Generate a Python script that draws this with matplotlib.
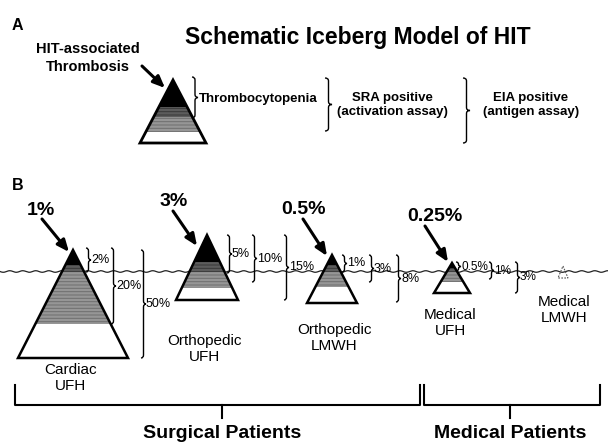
import numpy as np
import matplotlib
matplotlib.use("Agg")
import matplotlib.pyplot as plt
from matplotlib.patches import Polygon
from matplotlib.path import Path
from matplotlib.patches import PathPatch

plt.rcParams['font.family'] = ['Liberation Sans', 'DejaVu Sans']
plt.rcParams['hatch.linewidth'] = 0.7

# data
groups = ["Cardiac\nUFH", "Orthopedic\nUFH", "Orthopedic\nLMWH", "Medical\nUFH", "Medical\nLMWH"]
thrombosis = ["1%", "3%", "0.5%", "0.25%", ""]
brace_labels = [["2%", "20%", "50%"], ["5%", "10%", "15%"], ["1%", "3%", "8%"], ["0.5%", "1%", "3%"], []]
patient_groups = ["Surgical Patients", "Medical Patients"]
panel_a_labels = ["Thrombocytopenia", "SRA positive\n(activation assay)", "EIA positive\n(antigen assay)"]

# layout (pixel space)
W, H = 608, 443
fig = plt.figure(figsize=(W / 100, H / 100), dpi=100)
ax = fig.add_axes([0, 0, 1, 1])
ax.set_xlim(0, W)
ax.set_ylim(H, 0)
ax.axis('off')

layer_fc = ['black', '#5c5c5c', '#969696', 'white']
layer_hatch = [None, '-----', '-----', None]
layer_hc = [None, '#383838', '#6e6e6e', None]


def iceberg(apex_x, apex_y, base_y, half_w, bounds, lw=1.8):
    def hw(y):
        return half_w * (y - apex_y) / (base_y - apex_y)
    for k in range(len(bounds) - 1):
        y0, y1 = bounds[k], bounds[k + 1]
        pts = [(apex_x - hw(y0), y0), (apex_x + hw(y0), y0),
               (apex_x + hw(y1), y1), (apex_x - hw(y1), y1)]
        ax.add_patch(Polygon(pts, closed=True, facecolor=layer_fc[k], edgecolor='none', zorder=3))
        if layer_hatch[k]:
            ax.add_patch(Polygon(pts, closed=True, facecolor='none', edgecolor=layer_hc[k],
                                 hatch=layer_hatch[k], lw=0, zorder=3))
    ax.add_patch(Polygon([(apex_x, apex_y), (apex_x + half_w, base_y), (apex_x - half_w, base_y)],
                         closed=True, fill=False, edgecolor='black', lw=lw, joinstyle='miter', zorder=4))


def brace(x, y0, y1, w=3.0, lw=1.0):
    m = (y0 + y1) / 2
    r = min(3.0, (y1 - y0) / 4)
    verts = [(x, y0), (x + w, y0), (x + w, y0 + r),
             (x + w, m - r),
             (x + w, m), (x + 2 * w, m),
             (x + w, m), (x + w, m + r),
             (x + w, y1 - r),
             (x + w, y1), (x, y1)]
    codes = [Path.MOVETO, Path.CURVE3, Path.CURVE3,
             Path.LINETO,
             Path.CURVE3, Path.CURVE3,
             Path.CURVE3, Path.CURVE3,
             Path.LINETO,
             Path.CURVE3, Path.CURVE3]
    ax.add_patch(PathPatch(Path(verts, codes), fill=False, lw=lw, edgecolor='black', zorder=5))
    return x + 2 * w


def arrow(x0, y0, x1, y1):
    ax.annotate('', xy=(x1, y1), xytext=(x0, y0),
                arrowprops=dict(arrowstyle='-|>,head_length=0.7,head_width=0.3',
                                lw=2.2, color='black', shrinkA=0, shrinkB=0), zorder=6)


# ---------------- panel A ----------------
ax.text(12, 25, "A", fontsize=11.5, fontweight='bold', va='center')
ax.text(358, 37, "Schematic Iceberg Model of HIT", fontsize=16.5, fontweight='bold',
        ha='center', va='center')
ax.text(88, 58, "HIT-associated\nThrombosis", fontsize=10.5, fontweight='bold',
        ha='center', va='center', linespacing=1.3)
arrow(142, 66, 165, 88)
iceberg(173, 80, 143, 33, [80, 107, 117, 132, 143], lw=2)

xa = brace(192, 77, 118)
ax.text(xa + 0.5, 99, panel_a_labels[0], fontsize=9.5, fontweight='bold', va='center')
brace(325, 78, 131, w=3.5)
ax.text(392, 105, panel_a_labels[1], fontsize=9.5, fontweight='bold', ha='center', va='center',
        linespacing=1.2)
brace(463, 78, 143, w=3.5)
ax.text(531, 105, panel_a_labels[2], fontsize=9.5, fontweight='bold', ha='center', va='center',
        linespacing=1.2)

# ---------------- panel B ----------------
ax.text(12, 185, "B", fontsize=11.5, fontweight='bold', va='center')

# waterline
xw = np.linspace(0, W, 800)
ax.plot(xw, 271.5 + 0.8 * np.sin(xw * 2 * np.pi / 13), color='#222222', lw=0.9, zorder=2)

# icebergs
apex = [(73, 250), (207, 235), (332, 255), (452, 263)]
base_y = [358, 300, 303, 293]
half_w = [55, 31, 25, 18]
layers = [[250, 265, 272, 324, 358],
          [235, 262, 272, 288, 300],
          [255, 265, 272, 287, 303],
          [263, 268, 272, 282, 293]]
for i in range(4):
    iceberg(apex[i][0], apex[i][1], base_y[i], half_w[i], layers[i])

# medical LMWH dotted mini iceberg
ax.add_patch(Polygon([(563, 266), (568, 278), (558, 278)], closed=True, fill=False,
                     edgecolor='#555555', lw=0.8, linestyle=(0, (1.5, 1.2)), zorder=4))

# thrombosis rates
title_pos = [(41, 210), (174, 201), (303, 209), (435, 216)]
arrow_pos = [(42, 219, 69, 252), (173, 211, 197, 246), (303, 219, 327, 256), (425, 226, 448, 262)]
for i in range(4):
    ax.text(title_pos[i][0], title_pos[i][1], thrombosis[i], fontsize=14, fontweight='bold',
            ha='center', va='center')
    arrow(*arrow_pos[i])

# braces with percentages
brace_x = [[86, 111, 141], [227, 252, 284], [342, 369, 396], [456, 489, 515]]
brace_y = [[(248, 272), (248, 324), (250, 358)],
           [(235, 273), (235, 282), (235, 300)],
           [(255, 272), (255, 282), (255, 302)],
           [(262, 271), (262, 279), (262, 293)]]
label_fs = [9, 9, 9, 8.5]
for i in range(4):
    for j in range(3):
        y0, y1 = brace_y[i][j]
        xt = brace(brace_x[i][j], y0, y1, w=2.5)
        ax.text(xt, (y0 + y1) / 2, brace_labels[i][j], fontsize=label_fs[i], va='center',
                zorder=7)

# group names
name_pos = [(71, 378), (205, 349), (334, 338), (450, 323), (564, 310)]
for i in range(5):
    ax.text(name_pos[i][0], name_pos[i][1], groups[i], fontsize=11, ha='center', va='center',
            linespacing=1.15)

# patient brackets
ax.plot([15, 15, 420, 420], [385, 405, 405, 385], color='black', lw=1.5)
ax.plot([222, 222], [405, 418], color='black', lw=1.5)
ax.plot([424, 424, 600, 600], [385, 405, 405, 385], color='black', lw=1.5)
ax.plot([510, 510], [405, 418], color='black', lw=1.5)
ax.text(222, 433, patient_groups[0], fontsize=14, fontweight='bold', ha='center', va='center')
ax.text(510, 433, patient_groups[1], fontsize=14, fontweight='bold', ha='center', va='center')

fig.savefig("out.png", dpi=100)
